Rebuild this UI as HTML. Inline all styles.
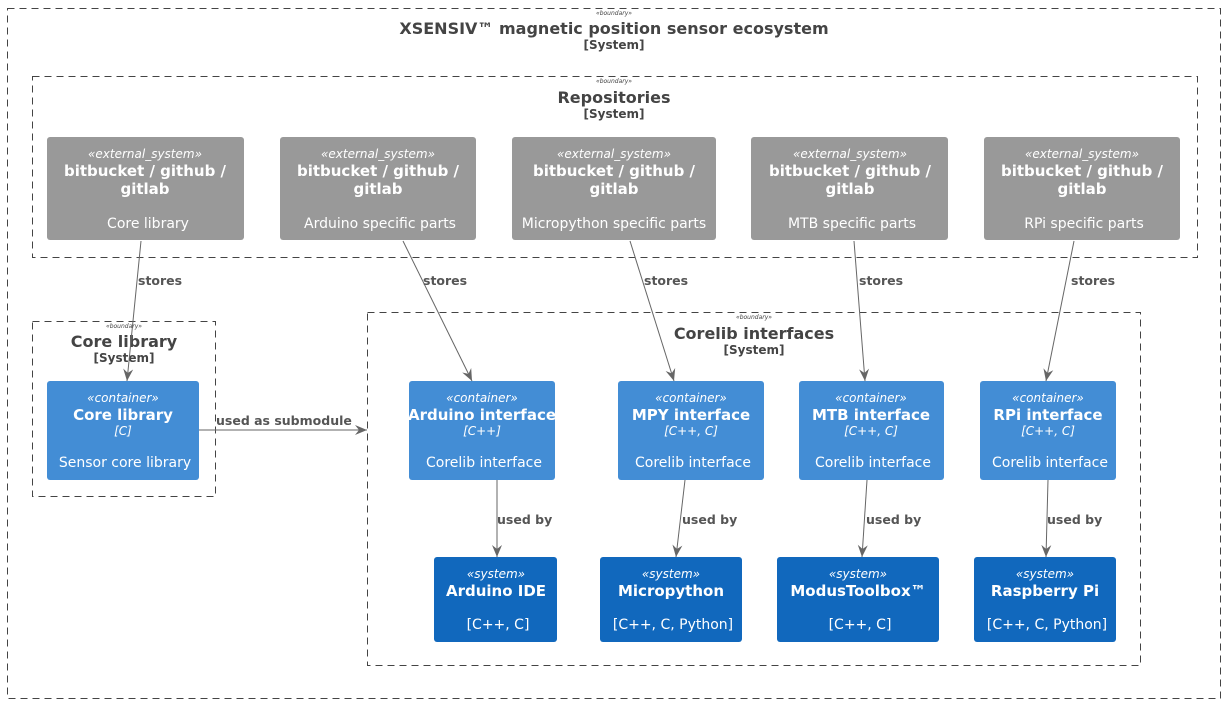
<!DOCTYPE html>
<html><head><meta charset="utf-8"><style>
body{margin:0;background:#fff}
svg text{font-family:"DejaVu Sans","Liberation Sans",sans-serif}
.st{font-size:12px;font-style:italic;fill:#fff}
.tt{font-size:15px;font-weight:bold;fill:#fff}
.ds{font-size:14px;fill:#fff}
.tc{font-size:12px;font-style:italic;fill:#fff}
.lb{font-size:12.5px;font-weight:bold;fill:#555}
.bt{font-size:16px;font-weight:bold;fill:#444}
.bs{font-size:12px;font-weight:bold;fill:#444}
.bb{font-size:6px;font-style:italic;fill:#444}
.bd{fill:none;stroke:#444;stroke-dasharray:7,5;stroke-width:1}
.ar{stroke:#666;stroke-width:1;fill:none;marker-end:url(#a)}
</style></head><body>
<svg width="1226" height="703" xmlns="http://www.w3.org/2000/svg" text-anchor="middle">
<defs><marker id="a" markerWidth="14" markerHeight="14" refX="12" refY="6" orient="auto" markerUnits="userSpaceOnUse"><path d="M0,1 L12,6 L0,11 L4,6 z" fill="#666"/></marker></defs>
<rect class="bd" x="7.5" y="8.5" width="1213" height="690"/>
<text class="bb" x="614" y="15">«boundary»</text>
<text class="bt" x="614" y="34">XSENSIV™ magnetic position sensor ecosystem</text>
<text class="bs" x="614" y="49">[System]</text>

<rect class="bd" x="32.5" y="76.5" width="1165" height="181"/>
<text class="bb" x="614" y="83">«boundary»</text>
<text class="bt" x="614" y="103">Repositories</text>
<text class="bs" x="614" y="118">[System]</text>

<g>
<rect x="47" y="137" width="197" height="103" rx="3" fill="#999"/>
<rect x="280" y="137" width="196" height="103" rx="3" fill="#999"/>
<rect x="512" y="137" width="204" height="103" rx="3" fill="#999"/>
<rect x="751" y="137" width="197" height="103" rx="3" fill="#999"/>
<rect x="984" y="137" width="196" height="103" rx="3" fill="#999"/>
</g>
<g>
<text class="st" x="145" y="158">«external_system»</text><text class="tt" x="145" y="176">bitbucket / github /</text><text class="tt" x="145" y="194">gitlab</text><text class="ds" x="148" y="228">Core library</text>
<text class="st" x="378" y="158">«external_system»</text><text class="tt" x="378" y="176">bitbucket / github /</text><text class="tt" x="378" y="194">gitlab</text><text class="ds" x="380" y="228">Arduino specific parts</text>
<text class="st" x="614" y="158">«external_system»</text><text class="tt" x="614" y="176">bitbucket / github /</text><text class="tt" x="614" y="194">gitlab</text><text class="ds" x="614" y="228">Micropython specific parts</text>
<text class="st" x="850" y="158">«external_system»</text><text class="tt" x="850" y="176">bitbucket / github /</text><text class="tt" x="850" y="194">gitlab</text><text class="ds" x="852" y="228">MTB specific parts</text>
<text class="st" x="1082" y="158">«external_system»</text><text class="tt" x="1082" y="176">bitbucket / github /</text><text class="tt" x="1082" y="194">gitlab</text><text class="ds" x="1084" y="228">RPi specific parts</text>
</g>

<rect class="bd" x="32.5" y="321.5" width="183" height="175"/>
<text class="bb" x="124" y="328">«boundary»</text>
<text class="bt" x="124" y="347">Core library</text>
<text class="bs" x="124" y="362">[System]</text>

<rect class="bd" x="367.5" y="312.5" width="773" height="353"/>
<text class="bb" x="754" y="319">«boundary»</text>
<text class="bt" x="754" y="339">Corelib interfaces</text>
<text class="bs" x="754" y="354">[System]</text>

<g fill="#438DD5">
<rect x="47" y="381" width="152" height="99" rx="3"/>
<rect x="409" y="381" width="146" height="99" rx="3"/>
<rect x="618" y="381" width="146" height="99" rx="3"/>
<rect x="799" y="381" width="145" height="99" rx="3"/>
<rect x="980" y="381" width="136" height="99" rx="3"/>
</g>
<g>
<text class="st" x="123" y="402">«container»</text><text class="tt" x="123" y="420">Core library</text><text class="tc" x="123" y="435">[C]</text><text class="ds" x="125" y="467">Sensor core library</text>
<text class="st" x="482" y="402">«container»</text><text class="tt" x="482" y="420">Arduino interface</text><text class="tc" x="482" y="435">[C++]</text><text class="ds" x="484" y="467">Corelib interface</text>
<text class="st" x="691" y="402">«container»</text><text class="tt" x="691" y="420">MPY interface</text><text class="tc" x="691" y="435">[C++, C]</text><text class="ds" x="693" y="467">Corelib interface</text>
<text class="st" x="871" y="402">«container»</text><text class="tt" x="871" y="420">MTB interface</text><text class="tc" x="871" y="435">[C++, C]</text><text class="ds" x="873" y="467">Corelib interface</text>
<text class="st" x="1048" y="402">«container»</text><text class="tt" x="1048" y="420">RPi interface</text><text class="tc" x="1048" y="435">[C++, C]</text><text class="ds" x="1050" y="467">Corelib interface</text>
</g>

<g fill="#1168BD">
<rect x="434" y="557" width="123" height="85" rx="3"/>
<rect x="600" y="557" width="142" height="85" rx="3"/>
<rect x="777" y="557" width="162" height="85" rx="3"/>
<rect x="974" y="557" width="142" height="85" rx="3"/>
</g>
<g>
<text class="st" x="496" y="578">«system»</text><text class="tt" x="496" y="596">Arduino IDE</text><text class="ds" x="498" y="629">[C++, C]</text>
<text class="st" x="671" y="578">«system»</text><text class="tt" x="671" y="596">Micropython</text><text class="ds" x="673" y="629">[C++, C, Python]</text>
<text class="st" x="858" y="578">«system»</text><text class="tt" x="858" y="596">ModusToolbox™</text><text class="ds" x="860" y="629">[C++, C]</text>
<text class="st" x="1045" y="578">«system»</text><text class="tt" x="1045" y="596">Raspberry Pi</text><text class="ds" x="1047" y="629">[C++, C, Python]</text>
</g>

<line class="ar" x1="141" y1="241" x2="127" y2="381"/>
<line class="ar" x1="403" y1="241" x2="472" y2="381"/>
<line class="ar" x1="630" y1="241" x2="674" y2="381"/>
<line class="ar" x1="854" y1="241" x2="865" y2="381"/>
<line class="ar" x1="1074" y1="241" x2="1046" y2="381"/>
<line class="ar" x1="497" y1="480" x2="497" y2="557"/>
<line class="ar" x1="685" y1="480" x2="676" y2="557"/>
<line class="ar" x1="867" y1="480" x2="862" y2="557"/>
<line class="ar" x1="1048" y1="480" x2="1046" y2="557"/>
<line class="ar" x1="199" y1="430" x2="367" y2="430"/>

<g text-anchor="start">
<text class="lb" x="138" y="285">stores</text>
<text class="lb" x="423" y="285">stores</text>
<text class="lb" x="644" y="285">stores</text>
<text class="lb" x="859" y="285">stores</text>
<text class="lb" x="1071" y="285">stores</text>
<text class="lb" x="497" y="524">used by</text>
<text class="lb" x="682" y="524">used by</text>
<text class="lb" x="866" y="524">used by</text>
<text class="lb" x="1047" y="524">used by</text>
<text class="lb" x="216" y="425">used as submodule</text>
</g>
</svg>
</body></html>
